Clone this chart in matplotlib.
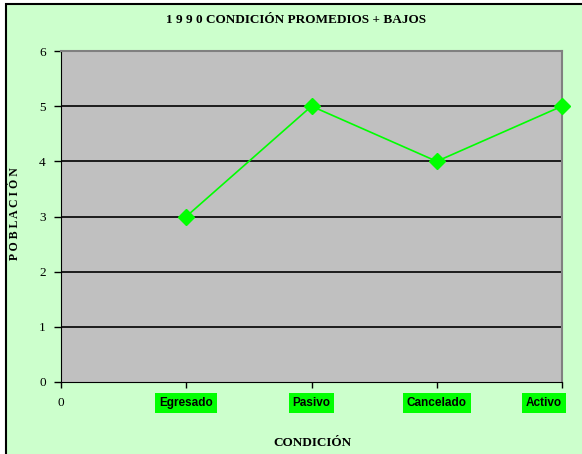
import numpy as np
import matplotlib.pyplot as plt
from matplotlib.patches import Rectangle

# chart data
categories = ["0", "Egresado", "Pasivo", "Cancelado", "Activo"]
x_pos = [1, 2, 3, 4]
poblacion = [3, 5, 4, 5]
y_ticks = [0, 1, 2, 3, 4, 5, 6]

SERIF = "Liberation Serif"
SANS = "Liberation Sans"

fig = plt.figure(figsize=(5.82, 4.54), dpi=100)
fig.patch.set_facecolor("white")

# light green chart area with black border on left/top
bg = Rectangle((6 / 582, -0.1), 1.2, 1 - 4 / 454 + 0.1, transform=fig.transFigure,
               facecolor="#CCFFCC", edgecolor="black", linewidth=1.5, zorder=-10)
fig.patches.append(bg)

ax = fig.add_axes([61 / 582, 1 - 382 / 454, (562 - 61) / 582, (382 - 51) / 454])
ax.set_facecolor("#C0C0C0")

for y in y_ticks[1:-1]:
    ax.axhline(y, color="black", linewidth=1.2, zorder=1)

ax.plot(x_pos, poblacion, color="#00FF00", linewidth=1.2, marker="D",
        markersize=8, markeredgecolor="#00FF00", zorder=3, clip_on=False)

ax.set_xlim(0, 4)
ax.set_ylim(0, 6)
ax.set_yticks(y_ticks)
ax.set_yticklabels([str(v) for v in y_ticks], fontfamily=SERIF, fontsize=9.5)
ax.set_xticks(range(len(categories)))
ax.set_xticklabels(categories)
ax.tick_params(axis="y", direction="out", length=5, width=1, pad=6)
ax.tick_params(axis="x", direction="out", length=4, width=1, pad=7)

for i, lab in enumerate(ax.get_xticklabels()):
    if i == 0:
        lab.set_fontfamily(SERIF)
        lab.set_fontsize(9.5)
    else:
        lab.set_fontfamily(SANS)
        lab.set_fontweight("bold")
        lab.set_fontsize(8.5)
        lab.set_bbox(dict(facecolor="#00FF00", edgecolor="none", pad=2.8))
    if i == len(categories) - 1:
        lab.set_horizontalalignment("right")
        lab.set_x(4.02)

ax.spines["left"].set_color("black")
ax.spines["bottom"].set_color("black")
ax.spines["top"].set_color("#808080")
ax.spines["right"].set_color("#808080")
ax.spines["top"].set_linewidth(1.5)
ax.spines["right"].set_linewidth(1.5)

fig.text(296 / 582, 1 - 20 / 454, "1 9 9 0 CONDICIÓN PROMEDIOS + BAJOS",
         ha="center", va="center", fontfamily=SERIF, fontweight="bold", fontsize=9.5)
fig.text(15 / 582, 1 - 214 / 454, "P O B L A C I Ó N", rotation=90,
         ha="center", va="center", fontfamily=SERIF, fontweight="bold", fontsize=8.5)
fig.text(312 / 582, 1 - 443 / 454, "CONDICIÓN", ha="center", va="center",
         fontfamily=SERIF, fontweight="bold", fontsize=9.5)

plt.savefig("out.png", dpi=100)
